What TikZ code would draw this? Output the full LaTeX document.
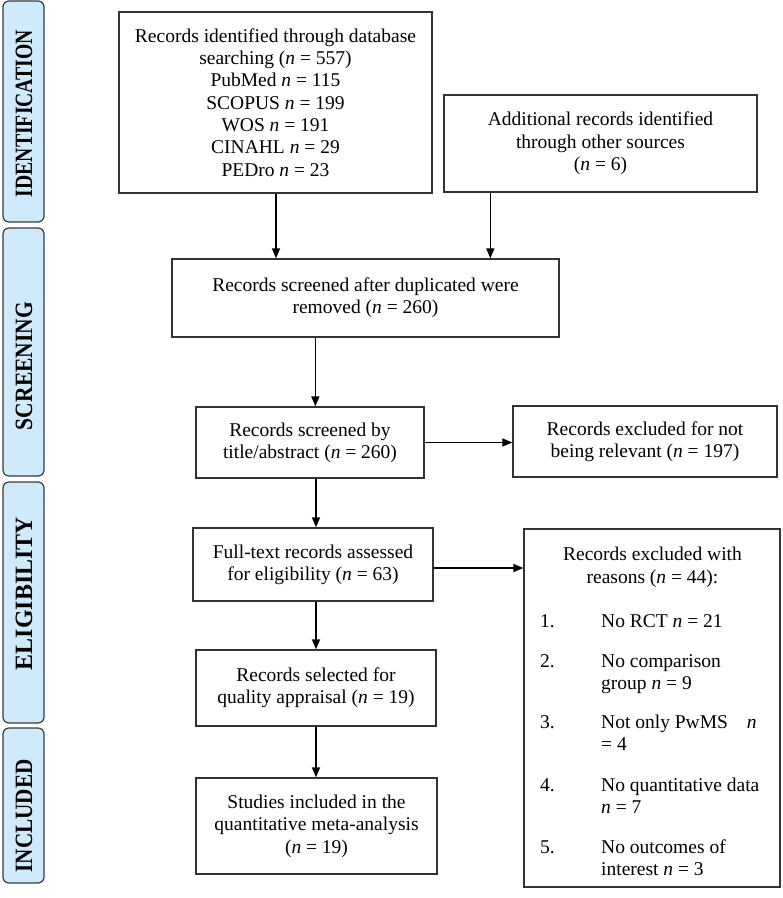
\documentclass[tikz,border=0pt]{standalone}
\usepackage{fontspec}
\setmainfont{Liberation Serif}
\usetikzlibrary{arrows.meta}
\newcommand{\nn}{\textit{n}}
\newcommand{\fsz}{\fontsize{19.5}{22.3}\selectfont}
\newcommand{\bartxt}[2]{\resizebox{#1}{16.5pt}{\bfseries #2}}
\definecolor{barfill}{HTML}{CFEBFB}
\definecolor{barline}{HTML}{3A3A3A}
\definecolor{boxline}{HTML}{333333}
\begin{document}
\begin{tikzpicture}[x=1pt,y=-1pt,
 box/.style={draw=boxline, line width=1.3pt, inner sep=0pt, align=center, font=\fsz},
 bar/.style={draw=barline, fill=barfill, line width=1.2pt, rounded corners=6pt},
 bartext/.style={rotate=90, inner sep=0pt},
 arr/.style={line width=1.5pt, -{Triangle[length=10pt,width=8pt]}},
 ltxt/.style={anchor=base west, inner sep=0pt, font=\fsz},
 ctxt/.style={anchor=base, inner sep=0pt, font=\fsz}
]
\useasboundingbox (0,0) rectangle (783,898);

% side bars
\draw[bar] (3,1) rectangle (44,222);
\draw[bar] (3,228) rectangle (44,476);
\draw[bar] (3,482) rectangle (44,723);
\draw[bar] (3,728) rectangle (44,883);
\node[bartext] (s1) at (24,113.5) {\bartxt{167pt}{IDENTIFICATION}};
\node[bartext] (s2) at (24,366) {\bartxt{128pt}{SCREENING}};
\node[bartext] (s3) at (24,593.5) {\bartxt{153pt}{ELIGIBILITY}};
\node[bartext] (s4) at (24,816) {\bartxt{113pt}{INCLUDED}};

% boxes
\node[box, minimum width=313pt, minimum height=181pt] (b1) at (275.5,102.5)
 {Records identified through database\\ searching (\nn{} = 557)\\ PubMed \nn{} = 115\\ SCOPUS \nn{} = 199\\ WOS \nn{} = 191\\ CINAHL \nn{} = 29\\ PEDro \nn{} = 23};
\node[box, minimum width=313pt, minimum height=97pt] (b2) at (600.5,143.5)
 {Additional records identified\\ through other sources\\ (\nn{} = 6)};
\node[box, minimum width=387pt, minimum height=78pt] (b3) at (365.5,298)
 {Records screened after duplicated were\\ removed (\nn{} = 260)};
\node[box, minimum width=228pt, minimum height=71pt] (b4) at (310,442.5)
 {Records screened by\\ title/abstract (\nn{} = 260)};
\node[box, minimum width=264pt, minimum height=71pt] (b5) at (645,441.5)
 {Records excluded for not\\ being relevant (\nn{} = 197)};
\node[box, minimum width=240pt, minimum height=73pt] (b6) at (313,564.5)
 {Full-text records assessed\\ for eligibility (\nn{} = 63)};
\node[box, minimum width=256pt, minimum height=358pt] (b7) at (652,708) {};
\node[box, minimum width=240pt, minimum height=76pt] (b8) at (316,688)
 {Records selected for\\ quality appraisal (\nn{} = 19)};
\node[box, minimum width=241pt, minimum height=96pt] (b9) at (316.5,826)
 {Studies included in the\\ quantitative meta-analysis\\ (\nn{} = 19)};

% contents of exclusion box
\node[ctxt] (t1) at (652.5,560.5) {Records excluded with};
\node[ctxt] (t2) at (652.5,583) {reasons (\nn{} = 44):};
\node[ltxt] (n1) at (540,627) {1.};
\node[ltxt] (r1) at (601,627) {No RCT \nn{} = 21};
\node[ltxt] (n2) at (540,667) {2.};
\node[ltxt] (r2a) at (601,667) {No comparison};
\node[ltxt] (r2b) at (601,689.5) {group \nn{} = 9};
\node[ltxt] (n3) at (540,728) {3.};
\node[ltxt] (r3a) at (601,728) {Not only PwMS\hspace{19pt}\nn};
\node[ltxt] (r3b) at (601,750.5) {= 4};
\node[ltxt] (n4) at (540,791) {4.};
\node[ltxt] (r4a) at (601,791) {No quantitative data};
\node[ltxt] (r4b) at (601,813.5) {\nn{} = 7};
\node[ltxt] (n5) at (540,853) {5.};
\node[ltxt] (r5a) at (601,853) {No outcomes of};
\node[ltxt] (r5b) at (601,875.5) {interest \nn{} = 3};

% arrows
\draw[arr] ([xshift=0.5pt]b1.south) -- ([xshift=0.5pt]b1.south |- b3.north);
\draw[arr] ([xshift=47pt]b2.south west) -- ([xshift=47pt]b2.south west |- b3.north);
\draw[arr] ([xshift=144pt]b3.south west) -- ([xshift=144pt]b3.south west |- b4.north);
\draw[arr] (b4.east) -- (b4.east -| b5.west);
\draw[arr] ([xshift=6pt]b4.south) -- ([xshift=6pt]b4.south |- b6.north);
\draw[arr] ([yshift=-3.5pt]b6.east) -- ([yshift=-3.5pt]b6.east -| b7.west);
\draw[arr] (b6.south -| b8.north) -- (b8.north);
\draw[arr] (b8.south) -- (b8.south |- b9.north);
\end{tikzpicture}
\end{document}
